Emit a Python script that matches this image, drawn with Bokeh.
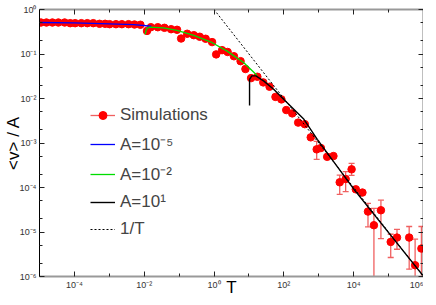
from bokeh.plotting import figure
from bokeh.models import (LogAxis, FixedTicker, CustomJSTickFormatter, Whisker, TeeHead,
                          ColumnDataSource, Legend, LegendItem, Range1d)
from bokeh.embed import file_html
from bokeh.resources import INLINE

# ---- data ----
sim_T = [1.10e-5, 1.58e-5, 2.34e-5, 3.47e-5, 5.25e-5, 7.59e-5, 1.05e-4, 1.58e-4, 2.34e-4,
         3.47e-4, 5.25e-4, 7.59e-4, 1.02e-3, 1.55e-3, 2.29e-3, 3.55e-3, 5.25e-3, 7.76e-3,
         1.20e-2, 1.55e-2, 2.45e-2, 3.80e-2, 5.89e-2, 8.71e-2, 0.114, 0.170, 0.263, 0.389,
         0.575, 0.880, 1.15, 1.70, 2.45, 3.72, 5.75, 7.94, 11.5, 17.4, 25.7, 38.9, 57.5, 85.1,
         117, 174, 257, 398, 589, 871, 1150, 1740, 2630, 3980, 5890, 8710, 11500, 17800,
         25700, 38000, 60300, 115000, 174000, 389000, 575000, 871000]
sim_v = [0.51, 0.51, 0.51, 0.51, 0.51, 0.493, 0.493, 0.493, 0.493, 0.493, 0.477, 0.477,
         0.468, 0.468, 0.468, 0.468, 0.46, 0.454,
         0.33, 0.40, 0.40, 0.388, 0.361, 0.35, 0.223, 0.285, 0.265, 0.244, 0.22, 0.185,
         0.098, 0.122, 0.111, 0.089, 0.069, 0.046, 0.0287, 0.0308, 0.023, 0.0184, 0.01086,
         0.00955, 0.0055, 0.00463, 0.00287, 0.00265, 0.00134, 7.2e-4, 7.7e-4, 4.89e-4,
         5.09e-4, 1.31e-4, 1.55e-4, 2.56e-4, 9.1e-5, 7.7e-5, 2.88e-5, 1.42e-5, 3.08e-5,
         5.98e-6, 7.5e-6, 7.5e-6, 1.79e-6, 4.25e-6]

err_T = [871, 3980, 5890, 8710, 25700, 38000, 60300, 115000, 174000, 389000, 575000, 871000]
err_hi = [1.09e-3, 1.9e-4, 2.27e-4, 3.49e-4, 4.4e-5, 3.4e-5, 5.2e-5, 8.9e-6, 1.15e-5,
          1.33e-5, 6.9e-6, 1.33e-5]
err_lo = [4.3e-4, 7.0e-5, 8.1e-5, 1.88e-4, 1.3e-5, 1e-7, 7.1e-6, 2.67e-6, 4.1e-6,
          1.46e-6, 1e-7, 1e-7]

blue_T = [1e-5, 1e-4, 1e-3, 5e-3, 1.6e-2]
blue_v = [0.51, 0.50, 0.475, 0.455, 0.42]

green_T = [0.0106, 0.0118, 0.0143, 0.0361, 0.087, 0.262, 0.79, 2.37, 7.14, 17.2]
green_v = [0.275, 0.375, 0.40, 0.388, 0.338, 0.261, 0.188, 0.116, 0.0636, 0.033]

black_T = [10.4, 10.4, 12.1, 15.8, 26.8, 51.9, 100, 376, 906, 10200, 977000]
black_v = [0.007, 0.0268, 0.0322, 0.0322, 0.0246, 0.016, 0.00955, 0.0034, 0.00121,
           9.1e-5, 1.03e-6]

inv_T = [1, 1e6]
inv_v = [1, 1e-6]

labels = ["Simulations", "A=10\u207b\u2075", "A=10\u207b\u00b2", "A=10\u00b9", "1/T"]

FONT = "Liberation Sans"

p = figure(frame_width=384, frame_height=267, x_axis_type="log", y_axis_type="log",
           x_range=Range1d(1e-5, 1e6), y_range=Range1d(1e-6, 1),
           output_backend="svg", toolbar_location=None,
           min_border_left=0, min_border_right=0, min_border_top=9, min_border_bottom=0)
p.outline_line_color = None
p.xgrid.visible = False
p.ygrid.visible = False
p.background_fill_color = "white"

fmt = CustomJSTickFormatter(code="""
const e = Math.round(Math.log10(tick));
const m = {"-":"\\u207b","0":"\\u2070","1":"\\u00b9","2":"\\u00b2","3":"\\u00b3",
           "4":"\\u2074","5":"\\u2075","6":"\\u2076","7":"\\u2077","8":"\\u2078","9":"\\u2079"};
let s = "";
for (const c of String(e)) s += m[c];
return "10" + s;
""")
blank = CustomJSTickFormatter(code="return '';")

x_major = [10.0 ** k for k in range(-4, 7, 2)]
x_minor = [10.0 ** k for k in range(-5, 7, 2)]
y_major = [10.0 ** k for k in range(-6, 1)]
y_minor = [m * 10.0 ** k for k in range(-6, 0) for m in (2, 5)]

def style(ax, color, width, show_labels):
    ax.axis_line_color = color
    ax.axis_line_width = width
    ax.major_tick_in = 5
    ax.major_tick_out = 0
    ax.minor_tick_in = 3
    ax.minor_tick_out = 0
    ax.major_tick_line_color = "#222222"
    ax.minor_tick_line_color = "#222222"
    ax.major_label_text_font = FONT
    ax.major_label_text_font_size = "9px"
    ax.major_label_text_color = "#333333"
    ax.major_label_standoff = 3
    ax.axis_label_text_font = FONT
    ax.axis_label_text_font_size = "17px"
    ax.axis_label_text_font_style = "normal"
    ax.axis_label_text_color = "black"
    ax.axis_label_standoff = 2
    if not show_labels:
        ax.formatter = blank
        ax.major_label_text_font_size = "0px"
        ax.major_label_standoff = 0

xa = p.xaxis[0]
xa.ticker = FixedTicker(ticks=x_major, minor_ticks=x_minor)
xa.formatter = fmt
xa.axis_label = "T"
style(xa, "#999999", 2, True)
xa.axis_label_standoff = -15

ya = p.yaxis[0]
ya.ticker = FixedTicker(ticks=y_major, minor_ticks=y_minor)
ya.formatter = fmt
ya.axis_label = "<v> / A"
style(ya, "black", 1, True)
ya.axis_label_standoff = -6

top = LogAxis(ticker=FixedTicker(ticks=x_major, minor_ticks=x_minor))
style(top, "#999999", 2, False)
p.add_layout(top, "above")

right = LogAxis(ticker=FixedTicker(ticks=y_major, minor_ticks=y_minor))
style(right, "black", 1.5, False)
p.add_layout(right, "right")

# error bars: vertical bars as segments, caps from a whisker
ecol = "#f06060"
bars = p.segment(x0=err_T, y0=err_lo, x1=err_T, y1=err_hi, line_color=ecol, line_width=1.3)
esrc = ColumnDataSource(dict(T=err_T, hi=err_hi, lo=err_lo))
wk = Whisker(base="T", upper="hi", lower="lo", source=esrc, line_alpha=0,
             upper_head=TeeHead(size=6, line_color=ecol, line_width=1.3),
             lower_head=TeeHead(size=6, line_color=ecol, line_width=1.3),
             level="underlay")
p.add_layout(wk)

# small dots (hidden beneath the main markers) provide the legend's small symbol
dots = p.scatter(sim_T, sim_v, size=5, color="#ff0000")
sim = p.scatter(sim_T, sim_v, size=7.5, color="#ff0000", line_color="#ff0000")

blue = p.line(blue_T, blue_v, line_color="#0000ff", line_width=1.3)
green = p.line(green_T, green_v, line_color="#00dd00", line_width=1.3)
black = p.line(black_T, black_v, line_color="black", line_width=1.4)
inv = p.line(inv_T, inv_v, line_color="black", line_width=1, line_dash="2 2")

legend = Legend(items=[
    LegendItem(label=labels[0], renderers=[bars, dots]),
    LegendItem(label=labels[1], renderers=[blue]),
    LegendItem(label=labels[2], renderers=[green]),
    LegendItem(label=labels[3], renderers=[black]),
    LegendItem(label=labels[4], renderers=[inv]),
], location=(51, 37))
legend.background_fill_alpha = 0
legend.border_line_alpha = 0
legend.padding = 0
legend.margin = 0
legend.spacing = 7
legend.glyph_width = 25
legend.glyph_height = 20
legend.label_height = 20
legend.label_standoff = 5
legend.label_text_font = FONT
legend.label_text_font_size = "17px"
p.add_layout(legend)

open("out.html", "w").write(file_html(p, INLINE))
